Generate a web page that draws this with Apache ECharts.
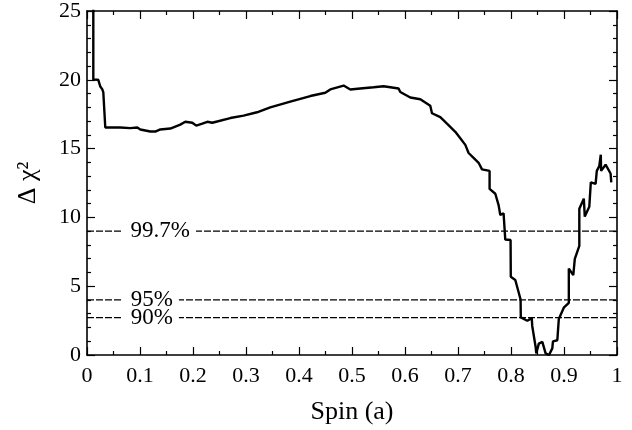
<!DOCTYPE html>
<html>
<head>
<meta charset="utf-8">
<script src="https://cdn.jsdelivr.net/npm/echarts@6/dist/echarts.min.js"></script>
<style>html,body{margin:0;padding:0;background:#fff;}#c{width:632px;height:430px;}</style>
</head>
<body>
<div id="c"></div>
<script>
// Spin (a) values
const spinX = [0.0119,0.0119,0.0213,0.0251,0.0289,0.0308,0.0345,0.0628,0.0817,0.0949,0.1006,0.1194,0.1289,0.1383,0.1572,0.1760,0.1855,0.1987,0.2062,0.2175,0.2270,0.2364,0.2704,0.2955,0.3208,0.3458,0.3836,0.4213,0.4496,0.4591,0.4842,0.4968,0.5157,0.5408,0.5596,0.5879,0.5911,0.6100,0.6289,0.6477,0.6509,0.6666,0.6792,0.6949,0.7043,0.7138,0.7200,0.7294,0.7389,0.7453,0.7596,0.7596,0.7704,0.7766,0.7798,0.7860,0.7892,0.7992,0.7996,0.8081,0.8181,0.8185,0.8308,0.8392,0.8400,0.8464,0.8477,0.8525,0.8591,0.8653,0.8717,0.8779,0.8792,0.8874,0.8902,0.8996,0.9091,0.9091,0.9175,0.9204,0.9289,0.9289,0.9374,0.9402,0.9392,0.9477,0.9506,0.9596,0.9619,0.9666,0.9694,0.9700,0.9785,0.9879,0.9892];
// Delta chi^2 values
const deltaChi2 = [27,20.01,20.0,19.51,19.30,19.08,16.53,16.53,16.49,16.53,16.39,16.24,16.24,16.39,16.46,16.74,16.95,16.88,16.67,16.81,16.95,16.88,17.22,17.40,17.64,18.00,18.42,18.82,19.06,19.30,19.58,19.30,19.37,19.46,19.53,19.37,19.11,18.71,18.59,18.11,17.57,17.29,16.81,16.22,15.75,15.27,14.68,14.33,13.97,13.49,13.38,12.07,11.72,10.89,10.18,10.30,8.39,8.36,5.68,5.45,4.03,2.73,2.49,2.68,2.13,0.60,0.12,0.83,0.95,0.12,0.0,0.48,0.99,1.07,2.61,3.44,3.79,6.28,5.80,6.99,7.93,10.63,11.36,11.36,10.06,10.77,12.55,12.43,13.38,13.74,14.56,13.38,13.83,13.19,12.55];
// Confidence levels
const confLevels = [9, 4, 2.71];
const confLabels = ['99.7%', '95%', '90%'];
const confLabelX = [0.1364, 0.1204, 0.1204];

const FONT = "'Liberation Serif','Times New Roman',serif";
const chart = echarts.init(document.getElementById('c'), null, {renderer: 'canvas'});

const curve = spinX.map((x, i) => [x, deltaChi2[i]]);

const xCommon = {
  type: 'value', min: 0, max: 1, interval: 0.1,
  axisLine: {show: true, onZero: false, lineStyle: {color: '#000', width: 1.6}},
  axisTick: {show: true, inside: true, length: 8, lineStyle: {color: '#000', width: 1.2}},
  minorTick: {show: true, splitNumber: 2, length: 4, lineStyle: {color: '#000', width: 1.2}},
  splitLine: {show: false}
};
const yCommon = {
  type: 'value', min: 0, max: 25, interval: 5,
  axisLine: {show: true, onZero: false, lineStyle: {color: '#000', width: 1.6}},
  axisTick: {show: true, inside: true, length: 8, lineStyle: {color: '#000', width: 1.2}},
  minorTick: {show: true, splitNumber: 5, length: 4, lineStyle: {color: '#000', width: 1.2}},
  splitLine: {show: false}
};

const series = [];
confLevels.forEach((lv, i) => {
  series.push({
    type: 'line', data: [[0, lv], [1, lv]], symbol: 'none', silent: true,
    lineStyle: {color: '#000', width: 1.3, type: [7, 2]}, z: 1
  });
});
series.push({
  type: 'scatter', symbolSize: 0, silent: true, z: 3,
  itemStyle: {color: '#000', opacity: 1},
  data: confLevels.map((lv, i) => ({value: [confLabelX[i], lv], name: confLabels[i]})),
  label: {
    show: true, position: 'inside', formatter: p => p.name,
    fontFamily: FONT, fontSize: 23, color: '#000', opacity: 1,
    textBorderWidth: 0, textBorderColor: 'transparent',
    backgroundColor: '#fff', padding: [0, 6, 0, 8], lineHeight: 20
  }
});
series.push({
  type: 'line', data: curve, symbol: 'none', clip: true, z: 4,
  lineStyle: {color: '#000', width: 2.4}
});

chart.setOption({
  animation: false,
  backgroundColor: '#fff',
  grid: {left: 87, right: 15, top: 5, bottom: 73, containLabel: false},
  xAxis: [
    Object.assign({}, xCommon, {
      position: 'bottom',
      name: 'Spin (a)', nameLocation: 'middle', nameGap: 44,
      nameTextStyle: {fontFamily: FONT, fontSize: 26, color: '#000'},
      axisLabel: {fontFamily: FONT, fontSize: 22, color: '#000', margin: 10}
    }),
    Object.assign({}, xCommon, {position: 'top', axisLabel: {show: false}})
  ],
  yAxis: [
    Object.assign({}, yCommon, {
      position: 'left',
      name: 'Δ χ²', nameLocation: 'middle', nameGap: 46, nameRotate: 90,
      nameTextStyle: {fontFamily: FONT, fontSize: 26, color: '#000'},
      axisLabel: {fontFamily: FONT, fontSize: 22, color: '#000', margin: 6}
    }),
    Object.assign({}, yCommon, {position: 'right', axisLabel: {show: false}})
  ],
  series: series
});
</script>
</body>
</html>
